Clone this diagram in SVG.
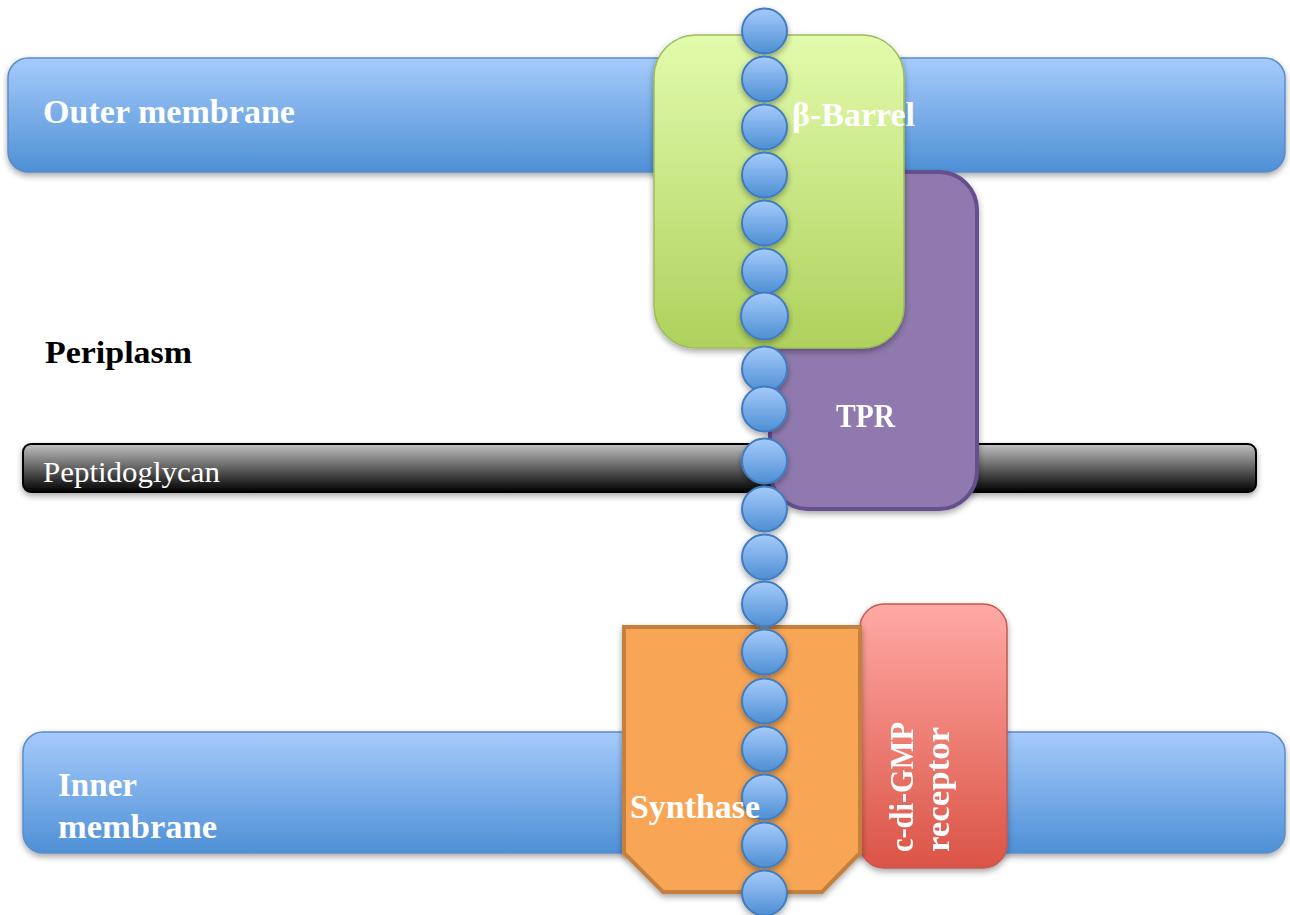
<svg xmlns="http://www.w3.org/2000/svg" width="1290" height="915" viewBox="0 0 1290 915">
<defs>
<linearGradient id="gBlue" x1="0" y1="0" x2="0" y2="1"><stop offset="0" stop-color="#a6cbfb"/><stop offset="1" stop-color="#4e90d6"/></linearGradient>
<linearGradient id="gGray" x1="0" y1="0" x2="0" y2="1"><stop offset="0" stop-color="#c2c2c2"/><stop offset="1" stop-color="#000"/></linearGradient>
<linearGradient id="gGreen" x1="0" y1="0" x2="0" y2="1"><stop offset="0" stop-color="#e2fbac"/><stop offset="1" stop-color="#afd15c"/></linearGradient>
<linearGradient id="gRed" x1="0" y1="0" x2="0" y2="1"><stop offset="0" stop-color="#ffa9a4"/><stop offset="1" stop-color="#db5446"/></linearGradient>
<linearGradient id="gBead" x1="0" y1="0" x2="0" y2="1"><stop offset="0" stop-color="#a6cbfb"/><stop offset="1" stop-color="#4e8fd4"/></linearGradient>
<filter id="sh" x="-10%" y="-10%" width="120%" height="130%"><feDropShadow dx="0" dy="3" stdDeviation="3" flood-color="#000" flood-opacity="0.35"/></filter>
</defs>
<style>
.t{font-family:"Liberation Serif","DejaVu Serif",serif;font-weight:bold;fill:#fff;font-size:33px}
.mem{fill:url(#gBlue);stroke:#5b8ccb;stroke-width:1.5}
.bead{fill:url(#gBead);stroke:#3f7bbf;stroke-width:2}
</style>
<g id="outer-membrane" filter="url(#sh)"><rect class="mem" x="8" y="58" width="1277" height="114" rx="20"/></g>
<g id="inner-membrane" filter="url(#sh)"><rect class="mem" x="23" y="732" width="1262" height="121" rx="20"/></g>
<g id="peptidoglycan" filter="url(#sh)"><rect x="23" y="444" width="1233" height="48" rx="8" fill="url(#gGray)" stroke="#000" stroke-width="2"/></g>
<text class="t" x="43" y="123" textLength="252" lengthAdjust="spacingAndGlyphs">Outer membrane</text>
<text x="43" y="482" font-family="Liberation Serif, DejaVu Serif, serif" font-size="29" fill="#fff" textLength="177" lengthAdjust="spacingAndGlyphs">Peptidoglycan</text>
<text class="t" x="58" y="796" textLength="79" lengthAdjust="spacingAndGlyphs">Inner</text>
<text class="t" x="58" y="838" textLength="159" lengthAdjust="spacingAndGlyphs">membrane</text>
<text x="45" y="363" font-family="Liberation Serif, DejaVu Serif, serif" font-weight="bold" font-size="32" fill="#000" textLength="147" lengthAdjust="spacingAndGlyphs">Periplasm</text>
<g id="tpr" filter="url(#sh)"><rect x="770" y="172" width="207" height="337" rx="38" fill="#8f79ae" stroke="#654f8c" stroke-width="4"/><text class="t" x="836" y="427" textLength="59" lengthAdjust="spacingAndGlyphs">TPR</text></g>
<g id="beta-barrel" filter="url(#sh)"><rect x="654" y="35" width="250" height="313" rx="42" fill="url(#gGreen)" stroke="#9dbd5c" stroke-width="1.5"/></g>
<g id="receptor" filter="url(#sh)"><rect x="860" y="604" width="147" height="264" rx="24" fill="url(#gRed)" stroke="#c45a52" stroke-width="1.5"/>
<text class="t" transform="translate(913,852) rotate(-90)" textLength="130" lengthAdjust="spacingAndGlyphs">c-di-GMP</text>
<text class="t" transform="translate(949,852) rotate(-90)" textLength="125" lengthAdjust="spacingAndGlyphs">receptor</text></g>
<g id="synthase" filter="url(#sh)"><polygon points="624,627 860,627 860,853 822,892 663,892 624,853" fill="#f8a654" stroke="#c5803c" stroke-width="4" stroke-linejoin="miter"/></g>
<g id="beads" filter="url(#sh)">
<circle class="bead" cx="764.5" cy="31" r="22.5"/>
<circle class="bead" cx="764.5" cy="79" r="22.5"/>
<circle class="bead" cx="764.5" cy="127" r="22.5"/>
<circle class="bead" cx="764.5" cy="175" r="22.5"/>
<circle class="bead" cx="764.5" cy="223" r="22.5"/>
<circle class="bead" cx="764.5" cy="271" r="22.5"/>
<circle class="bead" cx="764.5" cy="316" r="23.5"/>
<circle class="bead" cx="764.5" cy="369" r="22.5"/>
<circle class="bead" cx="764.5" cy="409" r="22.5"/>
<circle class="bead" cx="764.5" cy="461" r="22.5"/>
<circle class="bead" cx="764.5" cy="509" r="22.5"/>
<circle class="bead" cx="764.5" cy="557" r="22.5"/>
<circle class="bead" cx="764.5" cy="604" r="22.5"/>
<circle class="bead" cx="764.5" cy="652" r="22.5"/>
<circle class="bead" cx="764.5" cy="701" r="22.5"/>
<circle class="bead" cx="764.5" cy="749" r="22.5"/>
<circle class="bead" cx="764.5" cy="797" r="22.5"/>
<circle class="bead" cx="764.5" cy="845" r="22.5"/>
<circle class="bead" cx="764.5" cy="893" r="22.5"/>
</g>
<text class="t" x="792" y="126" textLength="123" lengthAdjust="spacingAndGlyphs">β-Barrel</text>
<text class="t" x="630" y="818" textLength="130" lengthAdjust="spacingAndGlyphs">Synthase</text>
</svg>
